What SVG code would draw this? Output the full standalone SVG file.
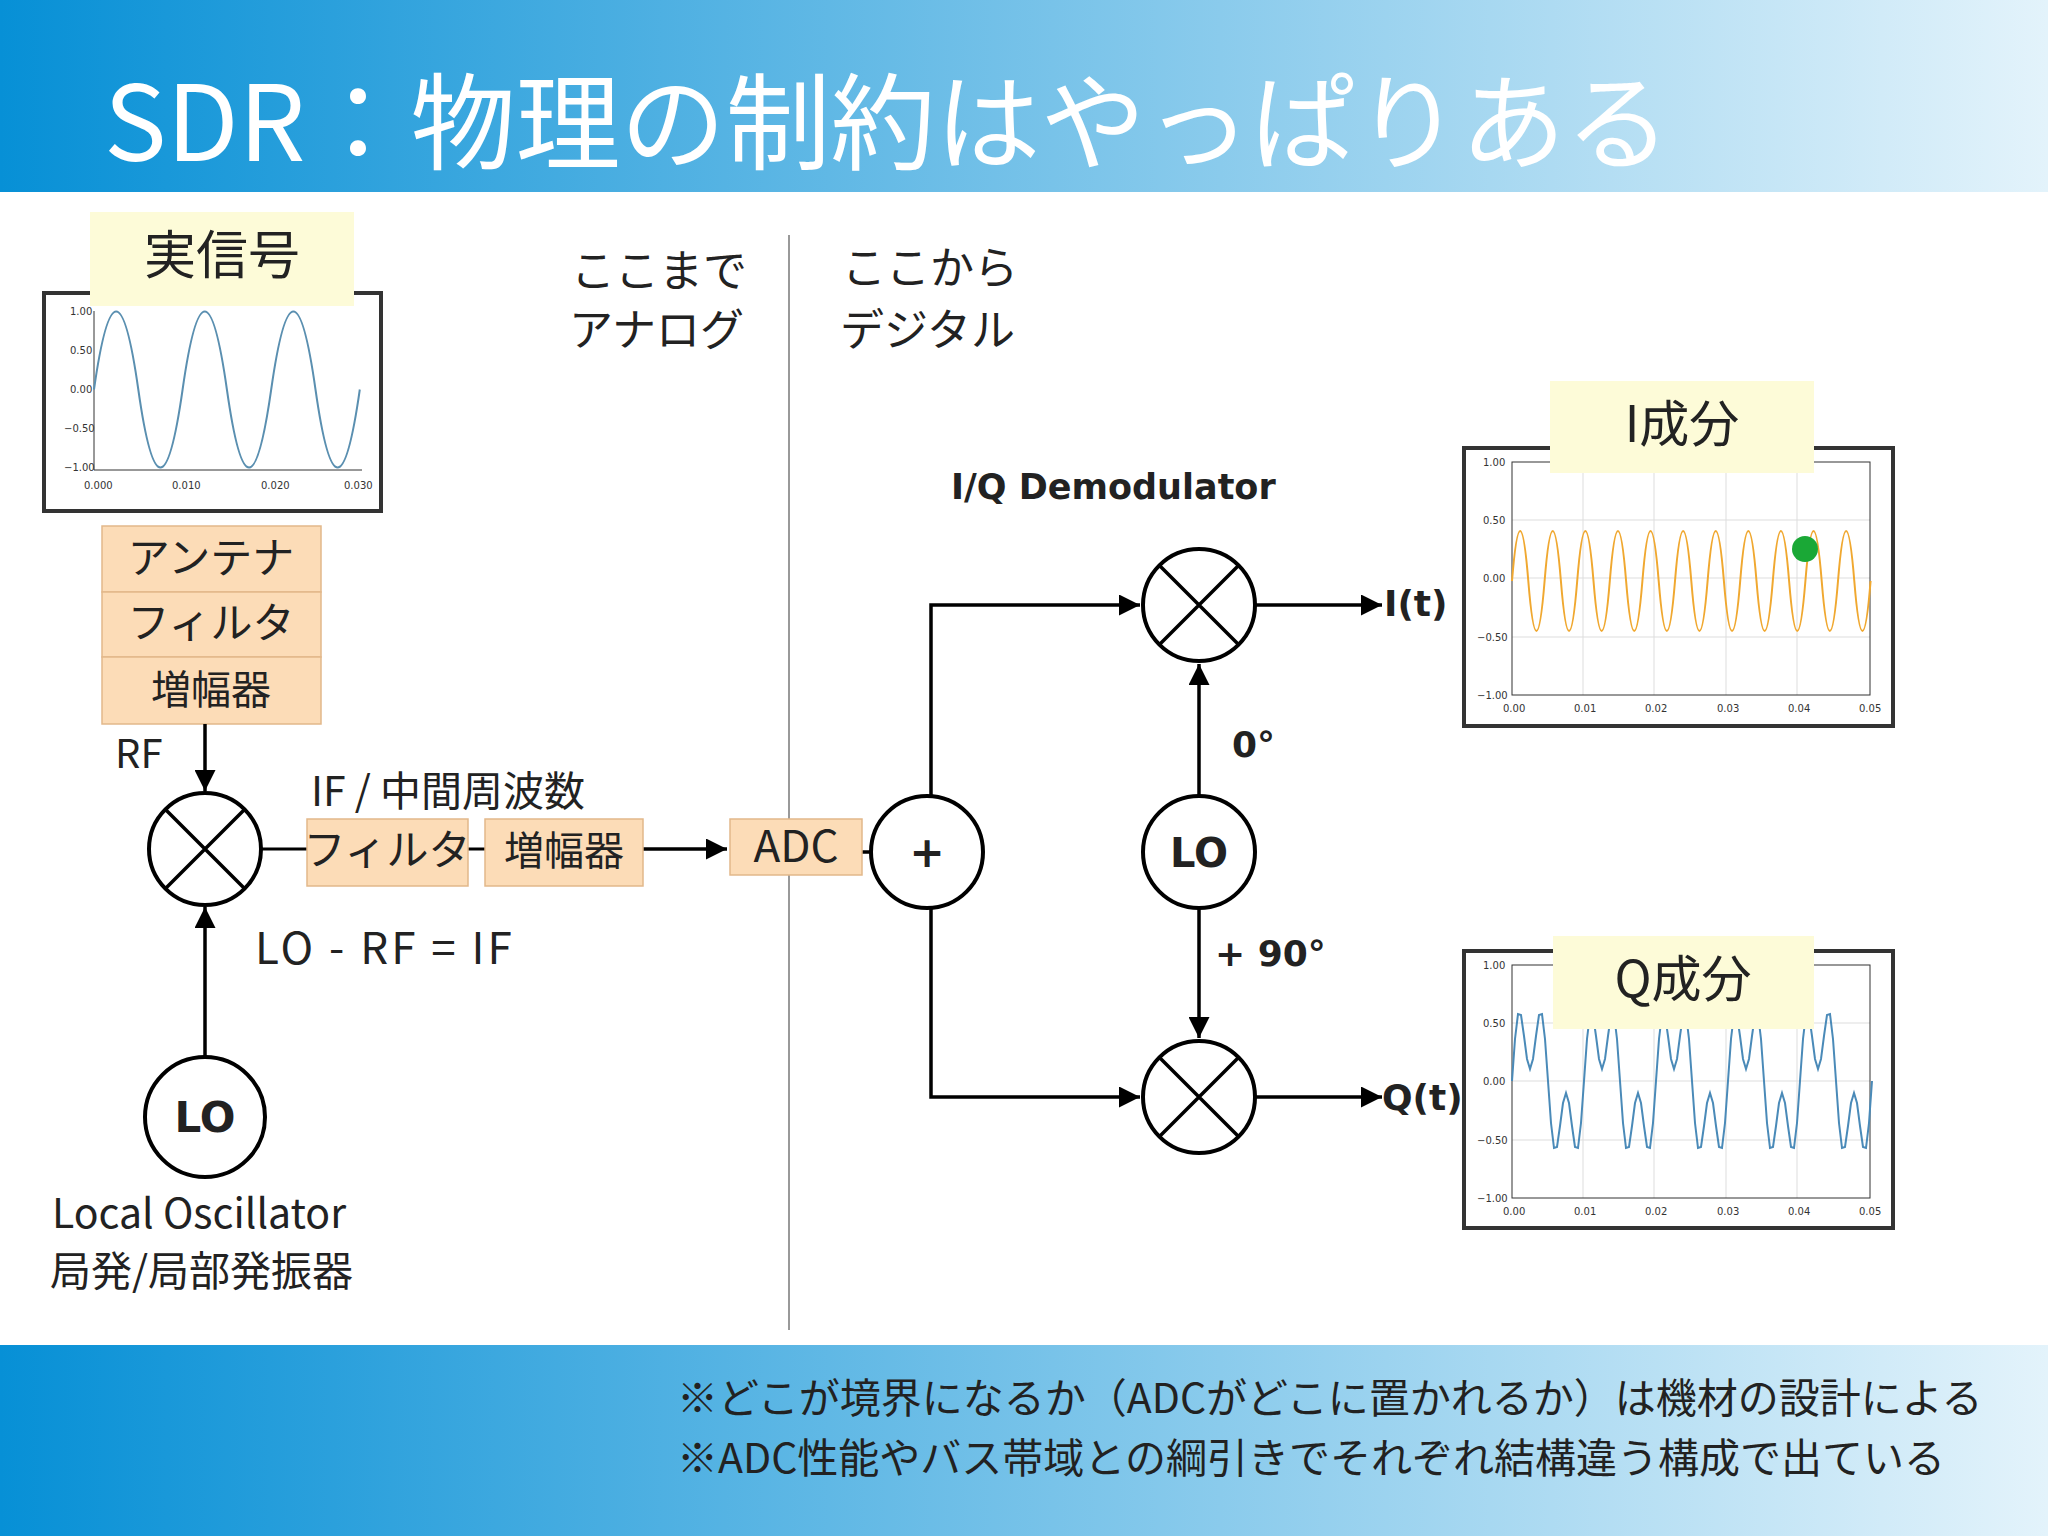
<svg xmlns="http://www.w3.org/2000/svg" width="2048" height="1536" viewBox="0 0 2048 1536">
<defs>
<linearGradient id="hg" x1="0" y1="0" x2="1" y2="0"><stop offset="0" stop-color="#0790d6"/><stop offset="1" stop-color="#e3f3fb"/></linearGradient>
<marker id="ah" viewBox="0 0 10 10" refX="10" refY="5" markerWidth="6" markerHeight="6" orient="auto"><path d="M0,0 L10,5 L0,10 z" fill="#000"/></marker>
<path id="qp" d="M0,0 L3,-42 6,-67 9,-66 12,-45 15,-22 18,-12 21,-22 24,-45 27,-66 30,-67 33,-42 36,0 39,42 42,67 45,66 48,45 51,22 54,12 57,22 60,45 63,66 66,67 69,42 72,0" fill="none" stroke="#4a8ab8" stroke-width="2"/>
</defs>
<style>
.t{font-family:"Noto Sans CJK JP","Noto Sans",sans-serif;fill:#222}
.b{font-family:"DejaVu Sans",sans-serif;font-weight:bold;fill:#222}
.box{fill:#fcdcb7;stroke:#e2b88a;stroke-width:1.5}
.lab{fill:#fdfbd8}
.c{fill:#fff;stroke:#000;stroke-width:4}
.ln{fill:none;stroke:#000;stroke-width:3.5}
.ax{fill:#fff;stroke:#333;stroke-width:4}
.tk{font-family:"DejaVu Sans",sans-serif;font-size:10px;fill:#333}
.g{stroke:#ddd;stroke-width:1}
</style>
<rect x="0" y="0" width="2048" height="192" fill="url(#hg)"/>
<text x="104" y="161" class="t" font-size="105" style="fill:#fff">SDR：物理の制約はやっぱりある</text>
<rect x="0" y="1345" width="2048" height="191" fill="url(#hg)"/>
<text x="677" y="1413" class="t" font-size="41">※どこが境界になるか（ADCがどこに置かれるか）は機材の設計による</text>
<text x="677" y="1473" class="t" font-size="41">※ADC性能やバス帯域との綱引きでそれぞれ結構違う構成で出ている</text>
<line x1="789" y1="235" x2="789" y2="1330" stroke="#999" stroke-width="2"/>
<text x="571" y="287" class="t" font-size="44">ここまで</text>
<text x="569" y="346" class="t" font-size="44">アナログ</text>
<text x="842" y="284" class="t" font-size="44">ここから</text>
<text x="840" y="346" class="t" font-size="44">デジタル</text>

<g id="plot-real">
<rect x="44" y="293" width="337" height="218" class="ax"/>
<line x1="94" y1="311" x2="94" y2="470" stroke="#333"/><line x1="94" y1="470" x2="362" y2="470" stroke="#333"/>
<path d="M94 389.5 q22.2 -156 44.3 0 t44.3 0 t44.3 0 t44.3 0 t44.3 0 t44.3 0" fill="none" stroke="#5a8fb0" stroke-width="2"/>
<text x="70" y="315" class="tk">1.00</text><text x="70" y="354" class="tk">0.50</text><text x="70" y="393" class="tk">0.00</text><text x="64" y="432" class="tk">−0.50</text><text x="64" y="471" class="tk">−1.00</text>
<text x="84" y="489" class="tk">0.000</text><text x="172" y="489" class="tk">0.010</text><text x="261" y="489" class="tk">0.020</text><text x="344" y="489" class="tk">0.030</text>
</g>
<g id="label-real"><rect x="90" y="212" width="264" height="94" class="lab"/><text x="222" y="274" class="t" font-size="52" text-anchor="middle">実信号</text></g>
<g id="stack">
<rect x="102" y="526" width="219" height="66" class="box"/><text x="211" y="573" class="t" font-size="42" text-anchor="middle">アンテナ</text>
<rect x="102" y="592" width="219" height="65" class="box"/><text x="211" y="638" class="t" font-size="42" text-anchor="middle">フィルタ</text>
<rect x="102" y="657" width="219" height="67" class="box"/><text x="211" y="704" class="t" font-size="40" text-anchor="middle">増幅器</text>
</g>
<text x="115" y="768" class="t" font-size="40">RF</text>
<g id="connectors">
<line x1="205" y1="724" x2="205" y2="791" class="ln" marker-end="url(#ah)"/>
<line x1="205" y1="1057" x2="205" y2="907" class="ln" marker-end="url(#ah)"/>
<line x1="148" y1="849" x2="307" y2="849" stroke="#000" stroke-width="3"/>
<line x1="468" y1="849" x2="485" y2="849" stroke="#000" stroke-width="3"/>
<line x1="643" y1="849" x2="727" y2="849" class="ln" marker-end="url(#ah)"/>
<line x1="862" y1="852" x2="871" y2="852" class="ln"/>
<polyline points="931,796 931,605 1140,605" class="ln" marker-end="url(#ah)"/>
<polyline points="931,908 931,1097 1140,1097" class="ln" marker-end="url(#ah)"/>
<line x1="1199" y1="796" x2="1199" y2="664" class="ln" marker-end="url(#ah)"/>
<line x1="1199" y1="908" x2="1199" y2="1038" class="ln" marker-end="url(#ah)"/>
<line x1="1255" y1="605" x2="1382" y2="605" class="ln" marker-end="url(#ah)"/>
<line x1="1255" y1="1097" x2="1382" y2="1097" class="ln" marker-end="url(#ah)"/>
</g>
<g id="mixer1"><circle cx="205" cy="849" r="56" class="c"/><path d="M165 809 L245 889 M245 809 L165 889" class="ln"/></g>
<g id="lo1"><circle cx="205" cy="1117" r="60" class="c"/><text x="205" y="1132" class="b" font-size="42" text-anchor="middle">LO</text></g>
<text x="52" y="1228" class="t" font-size="41">Local Oscillator</text>
<text x="50" y="1286" class="t" font-size="41">局発/局部発振器</text>
<text x="311" y="806" class="t" font-size="41">IF / 中間周波数</text>
<g id="if-filter"><rect x="307" y="819" width="161" height="67" class="box"/><text x="387" y="865" class="t" font-size="42" text-anchor="middle">フィルタ</text></g>
<g id="if-amp"><rect x="485" y="819" width="158" height="67" class="box"/><text x="564" y="865" class="t" font-size="40" text-anchor="middle">増幅器</text></g>
<g id="adc"><rect x="730" y="819" width="132" height="56" class="box"/><text x="796" y="862" class="t" font-size="44" text-anchor="middle">ADC</text></g>
<text x="255" y="964" class="t" font-size="44" letter-spacing="3" xml:space="preserve">LO - RF = IF</text>
<g id="plus"><circle cx="927" cy="852" r="56" class="c"/><text x="927" y="867" class="b" font-size="42" text-anchor="middle">+</text></g>
<text x="951" y="499" class="b" font-size="35">I/Q Demodulator</text>
<g id="mixI"><circle cx="1199" cy="605" r="56" class="c"/><path d="M1159 565 L1239 645 M1239 565 L1159 645" class="ln"/></g>
<g id="mixQ"><circle cx="1199" cy="1097" r="56" class="c"/><path d="M1159 1057 L1239 1137 M1239 1057 L1159 1137" class="ln"/></g>
<g id="lo2"><circle cx="1199" cy="852" r="56" class="c"/><text x="1199" y="867" class="b" font-size="40" text-anchor="middle">LO</text></g>
<text x="1232" y="757" class="b" font-size="36">0°</text>
<text x="1215" y="966" class="b" font-size="36">+ 90°</text>
<text x="1384" y="616" class="b" font-size="36">I(t)</text>
<text x="1382" y="1110" class="b" font-size="36">Q(t)</text>

<g id="plot-I">
<rect x="1464" y="448" width="429" height="278" class="ax"/>
<g class="g"><line x1="1583" y1="462" x2="1583" y2="695"/><line x1="1654" y1="462" x2="1654" y2="695"/><line x1="1726" y1="462" x2="1726" y2="695"/><line x1="1797" y1="462" x2="1797" y2="695"/><line x1="1512" y1="520" x2="1870" y2="520"/><line x1="1512" y1="578" x2="1870" y2="578"/><line x1="1512" y1="637" x2="1870" y2="637"/></g>
<rect x="1512" y="462" width="358" height="233" fill="none" stroke="#333"/>
<path d="M1512 581 q8.15 -100 16.3 0 t16.3 0 t16.3 0 t16.3 0 t16.3 0 t16.3 0 t16.3 0 t16.3 0 t16.3 0 t16.3 0 t16.3 0 t16.3 0 t16.3 0 t16.3 0 t16.3 0 t16.3 0 t16.3 0 t16.3 0 t16.3 0 t16.3 0 t16.3 0 t16.3 0" fill="none" stroke="#f0a830" stroke-width="2"/>
<circle cx="1805" cy="549" r="13" fill="#1aa836"/>
<text x="1483" y="466" class="tk">1.00</text><text x="1483" y="524" class="tk">0.50</text><text x="1483" y="582" class="tk">0.00</text><text x="1477" y="641" class="tk">−0.50</text><text x="1477" y="699" class="tk">−1.00</text>
<text x="1503" y="712" class="tk">0.00</text><text x="1574" y="712" class="tk">0.01</text><text x="1645" y="712" class="tk">0.02</text><text x="1717" y="712" class="tk">0.03</text><text x="1788" y="712" class="tk">0.04</text><text x="1859" y="712" class="tk">0.05</text>
</g>
<g id="label-I"><rect x="1550" y="381" width="264" height="92" class="lab"/><text x="1682" y="442" class="t" font-size="50" text-anchor="middle">I成分</text></g>

<g id="plot-Q">
<rect x="1464" y="951" width="429" height="277" class="ax"/>
<g class="g"><line x1="1583" y1="965" x2="1583" y2="1198"/><line x1="1654" y1="965" x2="1654" y2="1198"/><line x1="1726" y1="965" x2="1726" y2="1198"/><line x1="1797" y1="965" x2="1797" y2="1198"/><line x1="1512" y1="1023" x2="1870" y2="1023"/><line x1="1512" y1="1081" x2="1870" y2="1081"/><line x1="1512" y1="1140" x2="1870" y2="1140"/></g>
<rect x="1512" y="965" width="358" height="233" fill="none" stroke="#333"/>
<use href="#qp" x="1512" y="1081"/><use href="#qp" x="1584" y="1081"/><use href="#qp" x="1656" y="1081"/><use href="#qp" x="1728" y="1081"/><use href="#qp" x="1800" y="1081"/>
<text x="1483" y="969" class="tk">1.00</text><text x="1483" y="1027" class="tk">0.50</text><text x="1483" y="1085" class="tk">0.00</text><text x="1477" y="1144" class="tk">−0.50</text><text x="1477" y="1202" class="tk">−1.00</text>
<text x="1503" y="1215" class="tk">0.00</text><text x="1574" y="1215" class="tk">0.01</text><text x="1645" y="1215" class="tk">0.02</text><text x="1717" y="1215" class="tk">0.03</text><text x="1788" y="1215" class="tk">0.04</text><text x="1859" y="1215" class="tk">0.05</text>
</g>
<g id="label-Q"><rect x="1553" y="936" width="261" height="93" class="lab"/><text x="1683" y="997" class="t" font-size="50" text-anchor="middle">Q成分</text></g>
</svg>
